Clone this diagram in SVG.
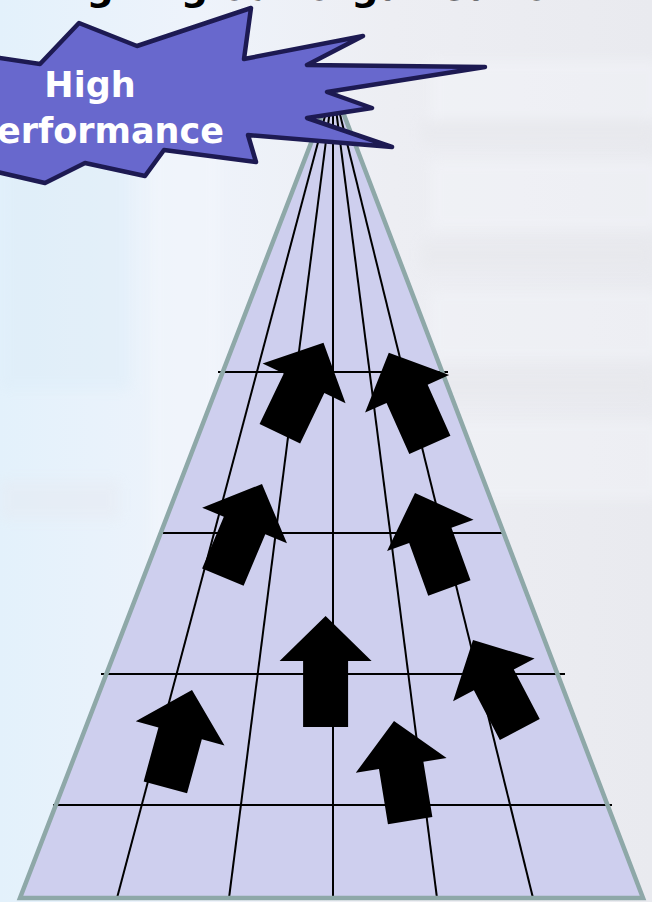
<svg xmlns="http://www.w3.org/2000/svg" width="652" height="902" viewBox="0 0 652 902">
  <defs>
    <linearGradient id="bgGrad" x1="0" y1="0" x2="1" y2="0">
      <stop offset="0" stop-color="#e3f1fb"/>
      <stop offset="0.3" stop-color="#eef3fb"/>
      <stop offset="0.6" stop-color="#edeef3"/>
      <stop offset="1" stop-color="#e9eaef"/>
    </linearGradient>
    <filter id="soft" x="-10%" y="-10%" width="120%" height="120%">
      <feGaussianBlur stdDeviation="6"/>
    </filter>
    <style>
      .title { font-family: "DejaVu Sans", Verdana, sans-serif; font-weight: bold; font-size: 38px; fill: #000; }
      .burst-text { font-family: "DejaVu Sans", Verdana, sans-serif; font-weight: bold; font-size: 35px; fill: #ffffff; }
      .grid { stroke: #000; stroke-width: 2; fill: none; }
      .edge { fill: none; stroke: #8ea8a8; stroke-width: 4.5; stroke-linejoin: miter; }
      .arrow { fill: #000; }
      .burst { fill: #6868cd; stroke: #1d1a52; stroke-width: 4.5; stroke-linejoin: round; }
    </style>
  </defs>

  <!-- soft photographic backdrop -->
  <g id="background">
    <rect x="0" y="0" width="652" height="902" fill="url(#bgGrad)"/>
    <g filter="url(#soft)" opacity="0.45">
      <rect x="0" y="90" width="130" height="300" fill="#dcecf8"/>
      <rect x="150" y="60" width="70" height="600" fill="#f4f7fc"/>
      <rect x="430" y="60" width="230" height="60" fill="#f4f6fa"/>
      <rect x="430" y="160" width="230" height="70" fill="#f4f6fa"/>
      <rect x="430" y="290" width="230" height="70" fill="#f3f5f9"/>
      <rect x="430" y="420" width="230" height="80" fill="#f3f5f9"/>
      <rect x="420" y="120" width="232" height="25" fill="#e6e7eb"/>
      <rect x="420" y="240" width="232" height="30" fill="#e6e7eb"/>
      <rect x="420" y="370" width="232" height="30" fill="#e6e7eb"/>
      <rect x="0" y="480" width="120" height="40" fill="#e6e9f1"/>
    </g>
  </g>

  <!-- heading, running off the top edge -->
  <text class="title" x="31" y="0">Aligning our organisation</text>

  <!-- perspective floor -->
  <g id="floor">
    <polygon points="333,86 643,898 20,898" fill="#cecfee"/>
  </g>

  <!-- grid lines of the floor -->
  <g id="connectors">
    <line class="grid" x1="333" y1="86" x2="117" y2="898"/>
    <line class="grid" x1="333" y1="86" x2="229" y2="898"/>
    <line class="grid" x1="333" y1="86" x2="333" y2="898"/>
    <line class="grid" x1="333" y1="86" x2="437" y2="898"/>
    <line class="grid" x1="333" y1="86" x2="533" y2="898"/>
    <line class="grid" x1="218" y1="372" x2="448" y2="372"/>
    <line class="grid" x1="163" y1="533" x2="502" y2="533"/>
    <line class="grid" x1="101" y1="674" x2="565" y2="674"/>
    <line class="grid" x1="53" y1="805" x2="612" y2="805"/>
  </g>

  <g id="floor-edge">
    <polygon class="edge" points="333,86 643,898 20,898"/>
  </g>

  <!-- arrows heading towards the goal -->
  <g id="arrows">
    <path id="arrow-a" class="arrow" transform="translate(323.5,342.7) rotate(25.6)" d="M0 0 L46 45 L22.5 45 L22.5 101 L-22.5 101 L-22.5 45 L-46 45 Z"/>
    <path id="arrow-b" class="arrow" transform="translate(388.8,352.7) rotate(-24)" d="M0 0 L46 45 L22.5 45 L22.5 101 L-22.5 101 L-22.5 45 L-46 45 Z"/>
    <path id="arrow-c" class="arrow" transform="translate(262,484) rotate(22.8)" d="M0 0 L46 45 L22.5 45 L22.5 101 L-22.5 101 L-22.5 45 L-46 45 Z"/>
    <path id="arrow-d" class="arrow" transform="translate(415,493) rotate(-19.9)" d="M0 0 L46 45 L22.5 45 L22.5 101 L-22.5 101 L-22.5 45 L-46 45 Z"/>
    <path id="arrow-e" class="arrow" transform="translate(325.6,616)" d="M0 0 L46 45 L22.5 45 L22.5 111 L-22.5 111 L-22.5 45 L-46 45 Z"/>
    <path id="arrow-f" class="arrow" transform="translate(192,690) rotate(15.3)" d="M0 0 L46 45 L22.5 45 L22.5 101 L-22.5 101 L-22.5 45 L-46 45 Z"/>
    <path id="arrow-g" class="arrow" transform="translate(394,721) rotate(-9.2)" d="M0 0 L46 45 L22.5 45 L22.5 101 L-22.5 101 L-22.5 45 L-46 45 Z"/>
    <path id="arrow-h" class="arrow" transform="translate(473,640) rotate(-27.6)" d="M0 0 L46 45 L22.5 45 L22.5 101 L-22.5 101 L-22.5 45 L-46 45 Z"/>
  </g>

  <!-- goal starburst -->
  <g id="high-performance">
    <polygon class="burst" points="-20,55 40,64 79,23 137,46 251,8 244,59 363,36 307,65 485,67 327,92 372,108 307,118 392,147 248,135 256,162 164,150 145,176 85,163 45,183 -20,168"/>
    <text class="burst-text" x="90" y="97" text-anchor="middle">High</text>
    <text class="burst-text" x="224" y="143" text-anchor="end">Performance</text>
  </g>
</svg>
